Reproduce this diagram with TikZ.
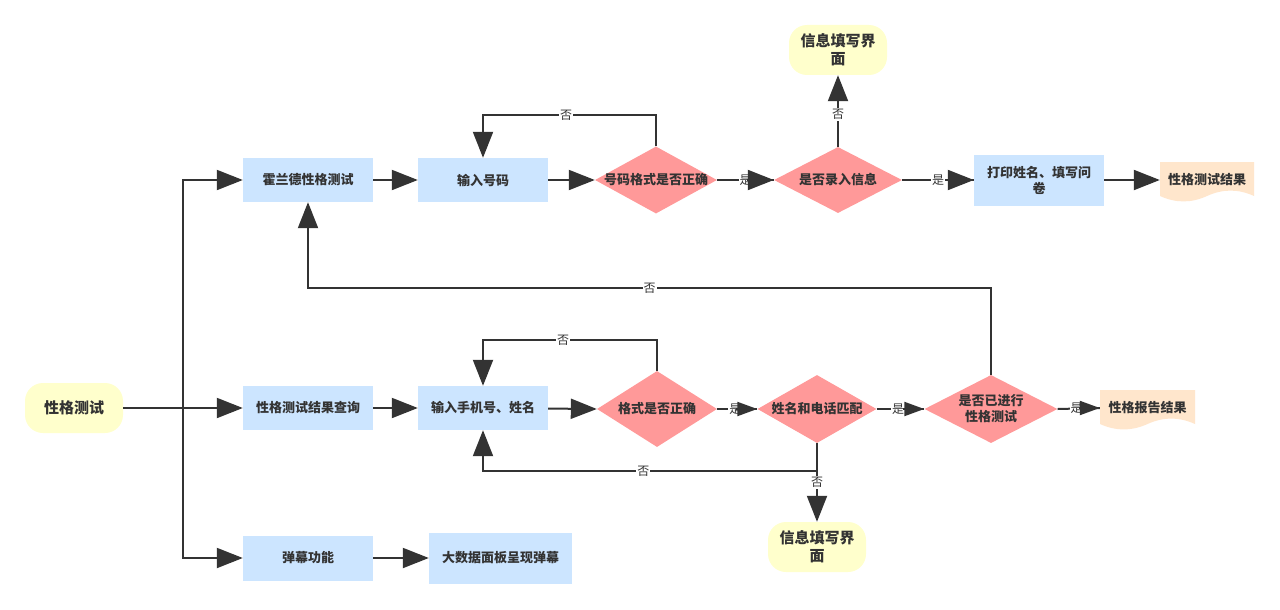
\documentclass[tikz,border=0pt]{standalone}
\usepackage{fontspec}
\setmainfont{Noto Sans CJK SC}
\usetikzlibrary{arrows.meta,shapes.geometric}
\definecolor{ink}{HTML}{333333}
\definecolor{boxblue}{HTML}{CCE5FF}
\definecolor{termyellow}{HTML}{FFFFCC}
\definecolor{diapink}{HTML}{FF9999}
\definecolor{docorange}{HTML}{FFE6CC}
\newcommand\docfill[4]{%
  \pgfmathsetmacro\dya{#4*0.3}%
  \pgfmathsetmacro\yb{#2+#4-\dya/2}%
  \fill[docorange] (#1,#2) -- ({#1+#3},#2) -- ({#1+#3},\yb)
    .. controls ({#1+#3-#3/6},{\yb-0.6*\dya}) and ({#1+#3/2+#3/6},{\yb-0.6*\dya}) .. ({#1+#3/2},\yb)
    .. controls ({#1+#3/2-#3/6},{\yb+0.6*\dya}) and ({#1+#3/6},{\yb+0.6*\dya}) .. (#1,\yb) -- cycle;}
\tikzset{
  ln/.style={draw=ink, line width=2pt},
  arr/.style={ln, -{Triangle[length=26pt,width=20pt]}},
  sarr/.style={ln, -{Triangle[length=20pt,width=14pt]}},
  box/.style={rectangle, fill=boxblue, minimum width=130pt, minimum height=44pt, inner sep=0pt,
    font=\bfseries\fontsize{13}{16}\selectfont, text=ink, align=center},
  term/.style={rectangle, rounded corners=18pt, fill=termyellow, minimum width=98pt, minimum height=50pt,
    inner sep=0pt, font=\bfseries\fontsize{15}{18}\selectfont, text=ink, align=center},
  dia/.style={diamond, fill=diapink, inner sep=0pt},
  dtext/.style={font=\bfseries\fontsize{13}{16}\selectfont, text=ink, align=center, inner sep=0pt},
  doctext/.style={rectangle, inner sep=0pt, font=\bfseries\fontsize{13}{16}\selectfont, text=ink},
  lab/.style={fill=white, inner sep=1pt, font=\fontsize{12}{13}\selectfont, text=ink}
}
\begin{document}
\begin{tikzpicture}[x=1pt,y=-1pt]
\useasboundingbox[fill=white] (0,0) rectangle (1280,610);

% document backgrounds
\docfill{1160}{162}{94}{40}
\docfill{1100}{390}{95}{40}

% nodes
\node[term] (xgcs) at (74,408) {性格测试};
\node[box] (hld) at (308,180) {霍兰德性格测试};
\node[box] (srhm) at (483,180) {输入号码};
\node[dia, minimum width=122pt, minimum height=67pt, label={[dtext]center:号码格式是否正确}] (d1) at (656,180) {};
\node[dia, minimum width=128pt, minimum height=66pt, label={[dtext]center:是否录入信息}] (d2) at (838,180) {};
\node[box, minimum height=51pt] (dy) at (1039,180) {打印姓名、填写问\\卷};
\node[doctext, minimum width=94pt, minimum height=36pt] (res1) at (1207,180) {性格测试结果};
\node[term] (info1) at (838,50) {信息填写界\\面};

\node[box] (xgcx) at (308,408) {性格测试结果查询};
\node[box] (srsj) at (483,408) {输入手机号、姓名};
\node[dia, minimum width=120pt, minimum height=76pt, label={[dtext]center:格式是否正确}] (d3) at (657,409) {};
\node[dia, minimum width=119pt, minimum height=68pt, label={[dtext]center:姓名和电话匹配}] (d4) at (817,409) {};
\node[dia, minimum width=133pt, minimum height=68pt, label={[dtext]center:是否已进行\\性格测试}] (d5) at (991,409) {};
\node[doctext, minimum width=95pt, minimum height=36pt] (res2) at (1147.5,408) {性格报告结果};
\node[term] (info2) at (817,547) {信息填写界\\面};

\node[box, minimum height=45pt] (dm) at (308,558) {弹幕功能};
\node[box, minimum width=143pt, minimum height=51pt] (dsj) at (500.5,558) {大数据面板呈现弹幕};

% trunk
\coordinate (tr) at (183,408);
\draw[arr] (xgcs.east) -- (xgcx.west);
\draw[arr] (tr) |- (hld.west);
\draw[arr] (tr) |- (dm.west);

% top row
\draw[arr] (hld) -- (srhm);
\draw[arr] (srhm) -- (d1);
\draw[ln] (d1.east) -- node[lab]{是} (d2.west);
\draw[arr] (d2.west) ++(-27,0) -- (d2.west);
\draw[ln] (d2.east) -- node[lab]{是} (dy.west);
\draw[arr] (dy.west) ++(-27,0) -- (dy.west);
\draw[arr] (dy) -- (res1);
\draw[arr] (d2.north) -- node[lab, pos=0.45]{否} (info1.south);
\draw[arr] (d1.north) -- ++(0,-31) -| node[lab, pos=0.26]{否} (srhm.north);
\draw[arr] (d5.north) -- ++(0,-87) -| node[lab, pos=0.25]{否} (hld.south);

% middle row
\draw[arr] (xgcx) -- (srsj);
\draw[arr] (srsj) -- (d3.west);
\draw[ln] (d3.east) -- node[lab, pos=0.45]{是} (d4.west);
\draw[sarr] (d4.west) ++(-21,0) -- (d4.west);
\draw[ln] (d4.east) -- node[lab, pos=0.45]{是} (d5.west);
\draw[sarr] (d5.west) ++(-21,0) -- (d5.west);
\draw[ln] (d5.east) -- node[lab, pos=0.45]{是} (res2.west);
\draw[sarr] (res2.west) ++(-21,0) -- (res2.west);
\draw[arr] (d3.north) -- ++(0,-31) -| node[lab, pos=0.27]{否} (srsj.north);
\draw[arr] (d4.south) -- ++(0,28) -| node[lab, pos=0.26]{否} (srsj.south);
\draw[arr] (d4.south) -- node[lab]{否} (info2.north);

% bottom row
\draw[arr] (dm) -- (dsj);
\end{tikzpicture}
\end{document}
